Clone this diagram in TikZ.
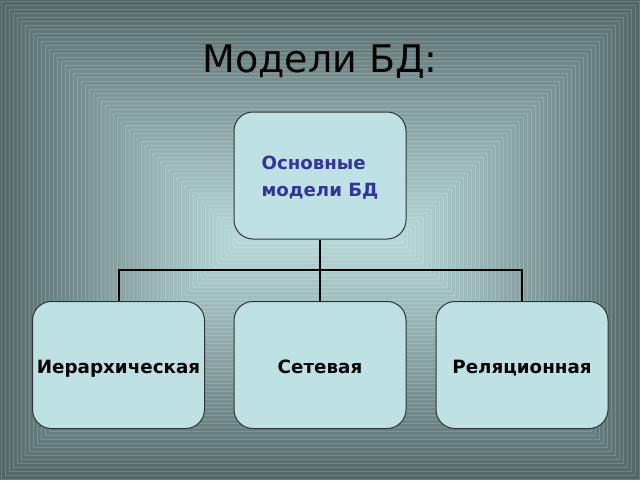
\documentclass[tikz,border=0pt]{standalone}
\usepackage{fontspec}
\setmainfont{DejaVu Sans}
\definecolor{bgout}{HTML}{536666}
\definecolor{bgin}{HTML}{B8D8D8}
\definecolor{boxfill}{HTML}{BEE2E4}
\definecolor{boxline}{HTML}{333333}
\definecolor{titleblue}{HTML}{3333A0}
\tikzset{
  modelbox/.style={draw=boxline, line width=1pt, fill=boxfill, rounded corners=19pt,
    minimum width=172pt, minimum height=127pt, inner sep=0pt},
  boxtext/.style={font=\fontsize{18.3}{27}\selectfont\bfseries, text=black, anchor=base, inner sep=0pt},
  conn/.style={draw=black, line width=2pt},
}
\begin{document}
\begin{tikzpicture}[x=1pt,y=-1pt]
\useasboundingbox (0,0) rectangle (640,480);
% background: nested rectangles
\foreach \i in {0,...,59}{
  \pgfmathsetmacro{\d}{\i*4}
  \pgfmathtruncatemacro{\p}{(\i/59)^0.9*100}
  \fill[bgin!\p!bgout] (\d,\d) rectangle (640-\d,480-\d);
  \draw[white, opacity=0.15, line width=0.6pt] (\d+1,\d+1) rectangle (639-\d,479-\d);
}
% title
\node[font=\fontsize{38}{44}\selectfont, text=black] (title) at (320,62) {Модели БД:};
% boxes
\node[modelbox] (root) at (320,175.5) {};
\node[font=\fontsize{18.2}{27}\selectfont\bfseries, text=titleblue, align=left, anchor=base, inner sep=0pt] (roottext) at (320,196) {Основные\\ модели БД};
\node[modelbox] (hier) at (118.5,365) {};
\node[modelbox] (net) at (320,365) {};
\node[modelbox] (rel) at (522,365) {};
\node[boxtext] (hiert) at (118.5,373) {Иерархическая};
\node[boxtext] (nett) at (320,373) {Сетевая};
\node[boxtext] (relt) at (522,373) {Реляционная};
% connectors
\coordinate (bus) at (320,270);
\draw[conn] (root.south) -- (bus);
\draw[conn] (hier.north) |- (bus) -| (rel.north);
\draw[conn] (bus) -- (net.north);
\end{tikzpicture}
\end{document}
